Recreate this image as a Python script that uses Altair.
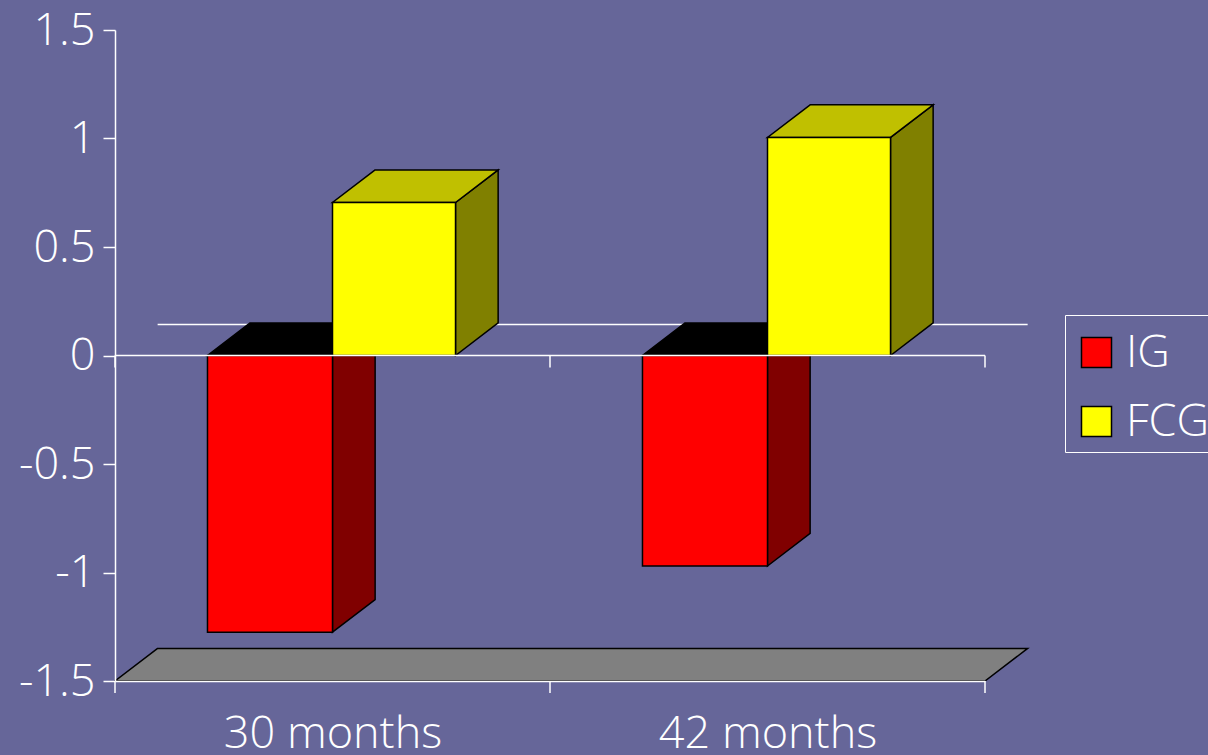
import altair as alt
import pandas as pd

# Values read per follow-up time and group
categories = ["30 months", "42 months"]
series = ["IG", "FCG"]
ig_values = [-1.275, -0.97]
fcg_values = [0.705, 1.005]
y_ticks = [-1.5, -1, -0.5, 0, 0.5, 1, 1.5]

front_colors = ["#ff0000", "#ffff00"]
side_colors = {"IG": "#800000", "FCG": "#808000"}
top_colors = {"IG": "#000000", "FCG": "#c0c000"}

BG = "#666699"
FONT = "Open Sans"
WEIGHT = 300
FONT_SIZE = 45
BAR_WIDTHS = {"IG": 0.2874, "FCG": 0.2828}  # in category units
DEPTH_X = 0.098      # oblique depth of the 3D look, in category units
DEPTH_Y = 0.15       # oblique depth, in value units
WALL_Y = 0.143       # height of the back wall's baseline
Y_MIN, Y_MAX = -1.5, 1.5

x_scale = alt.Scale(domain=[0, 2], nice=False, zero=False)
y_scale = alt.Scale(domain=[Y_MIN, Y_MAX], nice=False, zero=False)

# One row per bar, with its front, side and top geometry derived from the value
fronts, sides, tops = [], [], []
for i, _ in enumerate(categories):
    centre = i + 0.5
    for name, v in (("IG", ig_values[i]), ("FCG", fcg_values[i])):
        width = BAR_WIDTHS[name]
        x0 = centre - width if name == "IG" else centre
        x1 = x0 + width
        key = f"{name}{i}"
        fronts.append(dict(series=name, x0=x0, x1=x1, base=0, value=v))
        sides += [
            dict(key=key, series=name, x=x1, y=v, y2=0),
            dict(key=key, series=name, x=x1 + DEPTH_X, y=v + DEPTH_Y, y2=DEPTH_Y),
        ]
        top = max(v, 0)
        tops += [
            dict(key=key, series=name, y=top, xa=x0, xb=x1),
            dict(key=key, series=name, y=top + DEPTH_Y, xa=x0 + DEPTH_X, xb=x1 + DEPTH_X),
        ]

fronts = pd.DataFrame(fronts)
sides = pd.DataFrame(sides)
tops = pd.DataFrame(tops)
floor = pd.DataFrame([
    dict(y=Y_MIN, xa=0, xb=2),
    dict(y=Y_MIN + DEPTH_Y, xa=DEPTH_X, xb=2 + DEPTH_X),
])
wall_line = pd.DataFrame([dict(x=DEPTH_X, x2=2 + DEPTH_X, y=WALL_Y)])
zero_line = pd.DataFrame([dict(x=0, x2=2, y=0)])
tick_rows = pd.DataFrame(
    [dict(x=t, y=level, y2=level - 0.055) for t in (0, 1, 2) for level in (0, Y_MIN)]
)

label_expr = f"datum.value < 1 ? '{categories[0]}' : '{categories[1]}'"
x_axis = alt.Axis(
    values=[0.5, 1.5], labelExpr=label_expr, title=None, ticks=False, grid=False,
    domain=True, domainColor="white", domainWidth=1.5, labelColor="white",
    labelFont=FONT, labelFontSize=FONT_SIZE, labelFontWeight=WEIGHT, labelPadding=30,
    labelAngle=0, labelBaseline="top", labelFlush=False, labelLimit=400, zindex=1,
)
y_axis = alt.Axis(
    values=y_ticks, labelExpr="'' + datum.value", title=None, grid=False,
    domainColor="white", domainWidth=1.5, tickColor="white", tickWidth=1.5,
    tickSize=12, labelColor="white", labelFont=FONT, labelFontSize=FONT_SIZE,
    labelFontWeight=WEIGHT, labelPadding=8, labelFlush=False, labelOverlap=False,
    zindex=1,
)

floor_layer = alt.Chart(floor).mark_area(
    orient="horizontal", fill="#808080", stroke="black", strokeWidth=1.5
).encode(
    y=alt.Y("y:Q", scale=y_scale, axis=y_axis),
    x=alt.X("xa:Q", scale=x_scale, axis=x_axis),
    x2="xb:Q",
)
wall_layer = alt.Chart(wall_line).mark_rule(color="white", strokeWidth=1.5).encode(
    x=alt.X("x:Q", scale=x_scale), x2="x2:Q", y=alt.Y("y:Q", scale=y_scale)
)


def side_layer(name):
    return alt.Chart(sides[sides.series == name]).mark_area(
        fill=side_colors[name], stroke="black", strokeWidth=1.5
    ).encode(
        x=alt.X("x:Q", scale=x_scale),
        y=alt.Y("y:Q", scale=y_scale),
        y2="y2:Q",
        detail="key:N",
    )


def top_layer(name):
    return alt.Chart(tops[tops.series == name]).mark_area(
        orient="horizontal", fill=top_colors[name], stroke="black", strokeWidth=1.5
    ).encode(
        y=alt.Y("y:Q", scale=y_scale),
        x=alt.X("xa:Q", scale=x_scale),
        x2="xb:Q",
        detail="key:N",
    )


def front_layer(name):
    return alt.Chart(fronts[fronts.series == name]).mark_rect(
        stroke="black", strokeWidth=1.5
    ).encode(
        x=alt.X("x0:Q", scale=x_scale),
        x2="x1:Q",
        y=alt.Y("value:Q", scale=y_scale),
        y2="base:Q",
        fill=alt.Fill(
            "series:N",
            scale=alt.Scale(domain=series, range=front_colors),
            legend=alt.Legend(
                title=" ", titleFontSize=1, titlePadding=7,
                orient="none", legendX=950, legendY=285,
                direction="vertical", fillColor=BG, strokeColor="white",
                padding=7, symbolType="square", symbolSize=900, symbolOffset=2,
                symbolStrokeColor="black", symbolStrokeWidth=1.5,
                labelColor="white", labelFont=FONT, labelFontSize=FONT_SIZE,
                labelFontWeight=WEIGHT, labelLimit=300, labelOffset=7,
                rowPadding=23,
            ),
        ),
    )


zero_layer = alt.Chart(zero_line).mark_rule(color="white", strokeWidth=1.5).encode(
    x=alt.X("x:Q", scale=x_scale), x2="x2:Q", y=alt.Y("y:Q", scale=y_scale)
)
tick_layer = alt.Chart(tick_rows).mark_rule(color="white", strokeWidth=1.5).encode(
    x=alt.X("x:Q", scale=x_scale),
    y=alt.Y("y:Q", scale=y_scale),
    y2="y2:Q",
)

chart = alt.layer(
    floor_layer,
    wall_layer,
    top_layer("IG"),
    side_layer("IG"),
    front_layer("IG"),
    side_layer("FCG"),
    top_layer("FCG"),
    front_layer("FCG"),
    zero_layer,
    tick_layer,
).properties(
    width=870,
    height=651,
    background=BG,
    autosize=alt.AutoSizeParams(type="none"),
    padding={"left": 115, "top": 30, "right": 223, "bottom": 74},
).configure_view(stroke=None)

chart.save("out.html", embed_options={"renderer": "svg", "actions": False})
